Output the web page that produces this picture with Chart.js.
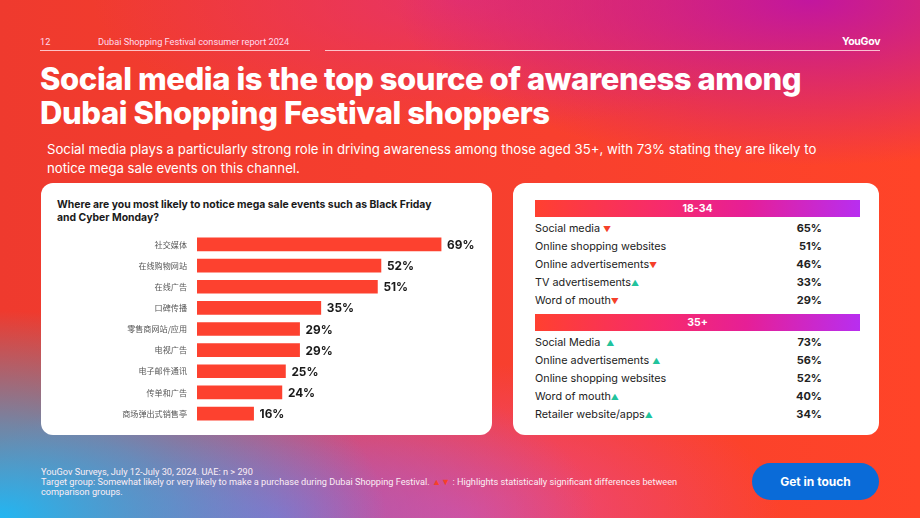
<!DOCTYPE html>
<html>
<head>
<meta charset="utf-8">
<script src="https://cdn.jsdelivr.net/npm/chart.js@4.4.1/dist/chart.umd.min.js"></script>
<style>
  html, body { margin: 0; padding: 0; }
  body {
    width: 920px; height: 518px; position: relative; overflow: hidden;
    font-family: Inter, "Noto Sans", sans-serif; color: #fff;
    background:
      radial-gradient(ellipse 42% 40% at 0% 100%, #22b6f2 0%, rgba(34,182,242,0.6) 45%, rgba(34,182,242,0) 100%),
      radial-gradient(ellipse 35% 30% at 30% 100%, rgba(150,100,210,0.8), rgba(150,100,210,0)),
      radial-gradient(ellipse 35% 30% at 50% 100%, rgba(232,74,150,0.9), rgba(232,74,150,0)),
      radial-gradient(ellipse 45% 32% at 88% 0%, #c2169f, rgba(194,22,159,0)),
      radial-gradient(ellipse 40% 25% at 50% 0%, rgba(226,48,120,0.75), rgba(226,48,120,0)),
      linear-gradient(90deg, #ef3a2e, #f8402e 60%, #ff4428);
  }
  .abs { position: absolute; }
  .hdr { font-family: Roboto, sans-serif; font-size: 9.2px; color: #fde; top: 36px; }
  .rule { height: 1px; background: rgba(255,220,225,0.85); top: 50px; }
  h1 { position: absolute; left: 40px; top: 62px; margin: 0; font-size: 31px; line-height: 34px; font-weight: 800; letter-spacing: -0.4px; }
  .sub { left: 47px; top: 140px; font-size: 13.2px; line-height: 19px; font-family: Inter, sans-serif; color: #fff; width: 800px; }
  .card { background: #fff; border-radius: 12px; top: 183px; height: 252px; }
  .q { left: 16px; top: 16px; font-size: 10.4px; line-height: 12.5px; font-weight: 700; color: #1a1a1a; width: 385px; }
  table { position: absolute; left: 22px; border-collapse: collapse; width: 325px; color: #222; }
  td { font-size: 10.8px; height: 18px; padding: 4px 0 0 0; box-sizing: border-box; vertical-align: middle; }
  td.v { text-align: right; padding-right: 38px; font-weight: 700; font-size: 11px; }
  th { height: 17px; font-size: 10.5px; color: #fff; font-weight: 700; padding: 0;
       background: linear-gradient(90deg, #ff4030, #f62a6e 40%, #e61f96 65%, #b82ef0 100%); }
  .up { color: #22c39c; font-size: 8px; }
  .dn { color: #f5402a; font-size: 8px; }
  .foot { left: 41px; top: 467px; font-family: Roboto, sans-serif; font-size: 9.2px; line-height: 9.8px; color: #fbeef5; width: 645px; }
  .btn { left: 752px; top: 463px; width: 127px; height: 37px; border-radius: 19px; background: #0a6bd8;
         font-size: 12px; font-weight: 700; text-align: center; line-height: 37px; }
</style>
</head>
<body>
<div class="abs hdr" style="left:40px">12</div>
<div class="abs hdr" style="left:98px">Dubai Shopping Festival consumer report 2024</div>
<div class="abs rule" style="left:40px; width:270px"></div>
<div class="abs rule" style="left:325px; width:555px"></div>
<div class="abs" style="left:842px; top:35px; font-size:10.5px; font-weight:700; letter-spacing:-0.3px">YouGov</div>

<h1>Social media is the top source of awareness among<br>Dubai Shopping Festival shoppers</h1>
<div class="abs sub">Social media plays a particularly strong role in driving awareness among those aged 35+, with 73% stating they are likely to notice mega sale events on this channel.</div>

<div class="abs card" style="left:41px; width:451px">
  <div class="abs q">Where are you most likely to notice mega sale events such as Black Friday and Cyber Monday?</div>
  <div class="abs" style="left:0; top:36px; width:451px; height:220px"><canvas id="bars"></canvas></div>
</div>

<div class="abs card" style="left:513px; width:366px">
  <table id="tbl" style="top:17px"></table>
</div>

<div class="abs foot">YouGov Surveys, July 12-July 30, 2024. UAE: n &gt; 290<br>Target group: Somewhat likely or very likely to make a purchase during Dubai Shopping Festival. <span style="color:#f5402a">▲▼</span> : Highlights statistically significant differences between comparison groups.</div>
<div class="abs btn">Get in touch</div>

<script>
const categories = ["社交媒体", "在线购物网站", "在线广告", "口碑传播", "零售商网站/应用", "电视广告", "电子邮件通讯", "传单和广告", "商场弹出式销售亭"];
const shares = [69, 52, 51, 35, 29, 29, 25, 24, 16];

const groupNames = ["18-34", "35+"];
const youngItems = ["Social media ", "Online shopping websites", "Online advertisements", "TV advertisements", "Word of mouth"];
const youngValues = [65, 51, 46, 33, 29];
const youngSig = ["dn", "", "dn", "up", "dn"];
const olderItems = ["Social Media  ", "Online advertisements ", "Online shopping websites", "Word of mouth", "Retailer website/apps"];
const olderValues = [73, 56, 52, 40, 34];
const olderSig = ["up", "up", "", "up", "up"];

// value labels at the end of each bar
const endLabels = {
  id: "endLabels",
  afterDatasetsDraw(chart) {
    const ctx = chart.ctx;
    const meta = chart.getDatasetMeta(0);
    ctx.save();
    ctx.font = "700 11.8px Inter, sans-serif";
    ctx.fillStyle = "#1a1a1a";
    ctx.textBaseline = "middle";
    meta.data.forEach((bar, i) => {
      ctx.fillText(shares[i] + "%", bar.x + 6, bar.y + 1);
    });
    ctx.restore();
  }
};

new Chart(document.getElementById("bars"), {
  type: "bar",
  data: {
    labels: categories,
    datasets: [{ data: shares, backgroundColor: "#fd412f", barThickness: 13 }]
  },
  options: {
    indexAxis: "y",
    responsive: true,
    maintainAspectRatio: false,
    animation: false,
    layout: { padding: { left: 0, right: 12, top: 4, bottom: 4 } },
    plugins: { legend: { display: false }, tooltip: { enabled: false } },
    scales: {
      x: { display: false, min: 0, max: 80 },
      y: {
        grid: { display: false, drawTicks: false },
        border: { display: false },
        ticks: { color: "#555", padding: 10, font: { family: "'Noto Sans CJK SC'", size: 8.1 } },
        afterFit(scale) { scale.width = 156; }
      }
    }
  },
  plugins: [endLabels]
});

function rows(items, values, sig) {
  return items.map((t, i) => {
    const mark = sig[i] === "up" ? '<span class="up">▲</span>' : sig[i] === "dn" ? '<span class="dn">▼</span>' : "";
    return `<tr><td style="white-space:pre">${t}${mark}</td><td class="v">${values[i]}%</td></tr>`;
  }).join("");
}
document.getElementById("tbl").innerHTML =
  `<tr><th colspan="2">${groupNames[0]}</th></tr>` + rows(youngItems, youngValues, youngSig) +
  `<tr><td colspan="2" style="height:7px;padding:0"></td></tr>` +
  `<tr><th colspan="2">${groupNames[1]}</th></tr>` + rows(olderItems, olderValues, olderSig);
</script>
</body>
</html>
